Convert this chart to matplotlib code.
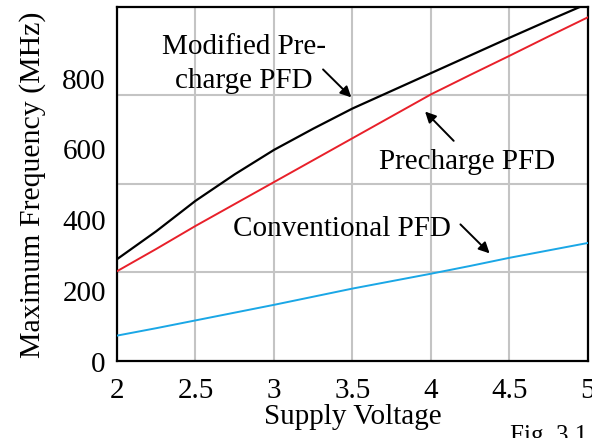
import numpy as np
import matplotlib
matplotlib.use("Agg")
import matplotlib.pyplot as plt

plt.rcParams["font.family"] = ["Liberation Serif", "DejaVu Serif"]

voltage = [2.0, 2.25, 2.5, 2.75, 3.0, 3.25, 3.5, 3.75, 4.0, 4.25, 4.5, 4.75, 5.0]
modified = [287, 366, 452, 527, 596, 656, 713, 763, 813, 863, 913, 962, 1010]
precharge = [253, 316, 381, 443, 505, 567, 629, 691, 753, 808, 862, 917, 971]
conventional = [71, 92, 114, 136, 158, 181, 204, 225, 246, 268, 291, 312, 333]

FS = 21

fig = plt.figure(figsize=(5.92, 4.39), dpi=100)
ax = fig.add_axes([0.1976, 0.176, 0.7956, 0.8058])

ax.plot(voltage, modified, color="black", lw=1.6, zorder=3)
ax.plot(voltage, precharge, color="#e8202a", lw=1.4, zorder=3)
ax.plot(voltage, conventional, color="#1aa7e6", lw=1.4, zorder=3)

ax.set_xlim(2, 5)
ax.set_ylim(0, 1000)
ax.set_xticks([2, 2.5, 3, 3.5, 4, 4.5, 5])
ax.set_xticklabels(["2", "2.5", "3", "3.5", "4", "4.5", "5"])
ax.set_yticks([0, 200, 400, 600, 800])
ax.set_yticks([250, 500, 750], minor=True)
ax.tick_params(axis="both", which="both", length=0, labelsize=FS)
ax.tick_params(axis="x", pad=12)
ax.tick_params(axis="y", pad=8)

ax.xaxis.grid(True, which="major", color="#c4c4c4", lw=1.5)
ax.yaxis.grid(True, which="minor", color="#c4c4c4", lw=1.5)
ax.set_axisbelow(True)
for s in ax.spines.values():
    s.set_linewidth(1.6)

ax.set_xlabel("Supply Voltage", fontsize=FS, labelpad=0)
ax.set_ylabel("Maximum Frequency (MHz)", fontsize=21.5, labelpad=12)

arrow = dict(arrowstyle="-|>", color="black", lw=1.4, mutation_scale=16)
ax.text(2.81, 843, "Modified Pre-\ncharge PFD", fontsize=FS, ha="center",
        va="center", linespacing=1.4)
ax.annotate("", xy=(3.505, 739), xytext=(3.30, 829), arrowprops=arrow)
ax.text(4.227, 564, "Precharge PFD", fontsize=FS, ha="center", va="center")
ax.annotate("", xy=(3.95, 710), xytext=(4.157, 616), arrowprops=arrow)
ax.text(3.43, 374, "Conventional PFD", fontsize=FS, ha="center", va="center")
ax.annotate("", xy=(4.386, 298), xytext=(4.175, 391), arrowprops=arrow)

fig.text(510 / 592, 1 - 447 / 439, "Fig. 3.1", fontsize=18, ha="left", va="bottom")

fig.savefig("out.png", dpi=100)
